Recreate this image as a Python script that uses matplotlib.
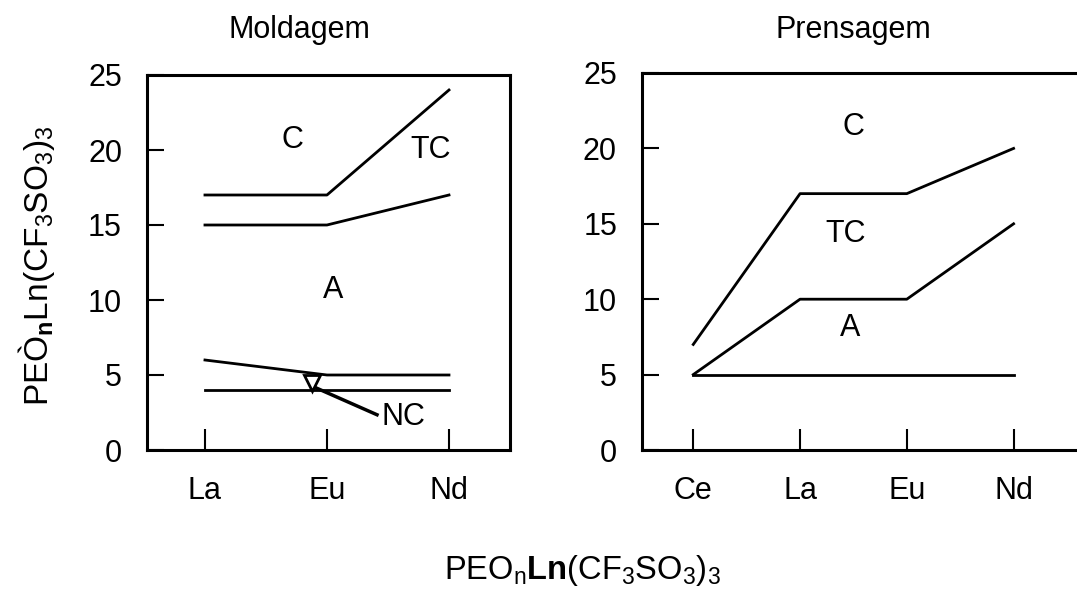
import matplotlib
matplotlib.use("Agg")
import matplotlib.pyplot as plt

plt.rcParams['font.family'] = ['Liberation Sans', 'DejaVu Sans']
plt.rcParams['mathtext.fontset'] = 'custom'
plt.rcParams['mathtext.rm'] = 'Liberation Sans'
plt.rcParams['mathtext.it'] = 'Liberation Sans'
plt.rcParams['mathtext.bf'] = 'Liberation Sans:bold'

# ---- data ----
mold_cats = ['La', 'Eu', 'Nd']
mold_c_tc = [17, 17, 24]
mold_tc_a = [15, 15, 17]
mold_a_nc = [6, 5, 5]
mold_nc_low = [4, 4, 4]

pren_cats = ['Ce', 'La', 'Eu', 'Nd']
pren_c_tc = [7, 17, 17, 20]
pren_tc_a = [5, 10, 10, 15]
pren_low = [5, 5, 5, 5]

yticks = [0, 5, 10, 15, 20, 25]

FS = 22
W, H = 1077, 592
fig = plt.figure(figsize=(W / 100, H / 100), dpi=100)

def style(ax, cats):
    ax.set_ylim(0, 25)
    ax.set_yticks(yticks)
    ax.set_xticks(range(len(cats)))
    ax.set_xticklabels(cats)
    ax.tick_params(axis='y', direction='in', length=12, width=1.5, pad=18, labelsize=FS)
    ax.tick_params(axis='x', direction='in', length=15, width=1.5, pad=19, labelsize=FS)
    for s in ax.spines.values():
        s.set_linewidth(2.2)

lw = 2.0
# Left panel
ax1 = fig.add_axes([147 / W, 1 - 450 / H, 363 / W, 375 / H])
x1 = list(range(len(mold_cats)))
for series in (mold_c_tc, mold_tc_a, mold_a_nc, mold_nc_low):
    ax1.plot(x1, series, color='black', lw=lw)
style(ax1, mold_cats)
ax1.set_xlim(-0.475, 2.5)
ax1.text(0.72, 20.7, 'C', fontsize=FS, ha='center', va='center')
ax1.text(1.85, 20.0, 'TC', fontsize=FS, ha='center', va='center')
ax1.text(1.05, 10.7, 'A', fontsize=FS, ha='center', va='center')
ax1.text(1.45, 2.2, 'NC', fontsize=FS, ha='left', va='center')
ax1.plot([1.41, 0.88], [2.35, 4.25], color='black', lw=2.5)
ax1.plot([0.88], [4.5], marker='v', ms=11, mfc='white', mec='black', mew=2)

# Right panel
ax2 = fig.add_axes([642 / W, 1 - 450 / H, 441 / W, 377 / H])
x2 = list(range(len(pren_cats)))
for series in (pren_c_tc, pren_tc_a, pren_low):
    ax2.plot(x2, series, color='black', lw=lw)
style(ax2, pren_cats)
ax2.set_xlim(-0.48, 3.65)
ax2.text(1.5, 21.4, 'C', fontsize=FS, ha='center', va='center')
ax2.text(1.43, 14.3, 'TC', fontsize=FS, ha='center', va='center')
ax2.text(1.47, 8.1, 'A', fontsize=FS, ha='center', va='center')

# Titles
fig.text(299 / W, 1 - 30 / H, 'Moldagem', fontsize=FS, ha='center', va='center')
fig.text(853 / W, 1 - 30 / H, 'Prensagem', fontsize=FS, ha='center', va='center')

# Axis labels
fig.text(37 / W, 1 - 266 / H, r'PEÒ$_{\mathbf{n}}$Ln(CF$_3$SO$_3$)$_3$',
         fontsize=24, rotation=90, ha='center', va='center')
fig.text(582 / W, 1 - 570 / H, r'PEO$_\mathrm{n}$$\mathbf{Ln}$(CF$_3$SO$_3$)$_3$',
         fontsize=23.5, ha='center', va='center')

fig.savefig('out.png', dpi=100)
